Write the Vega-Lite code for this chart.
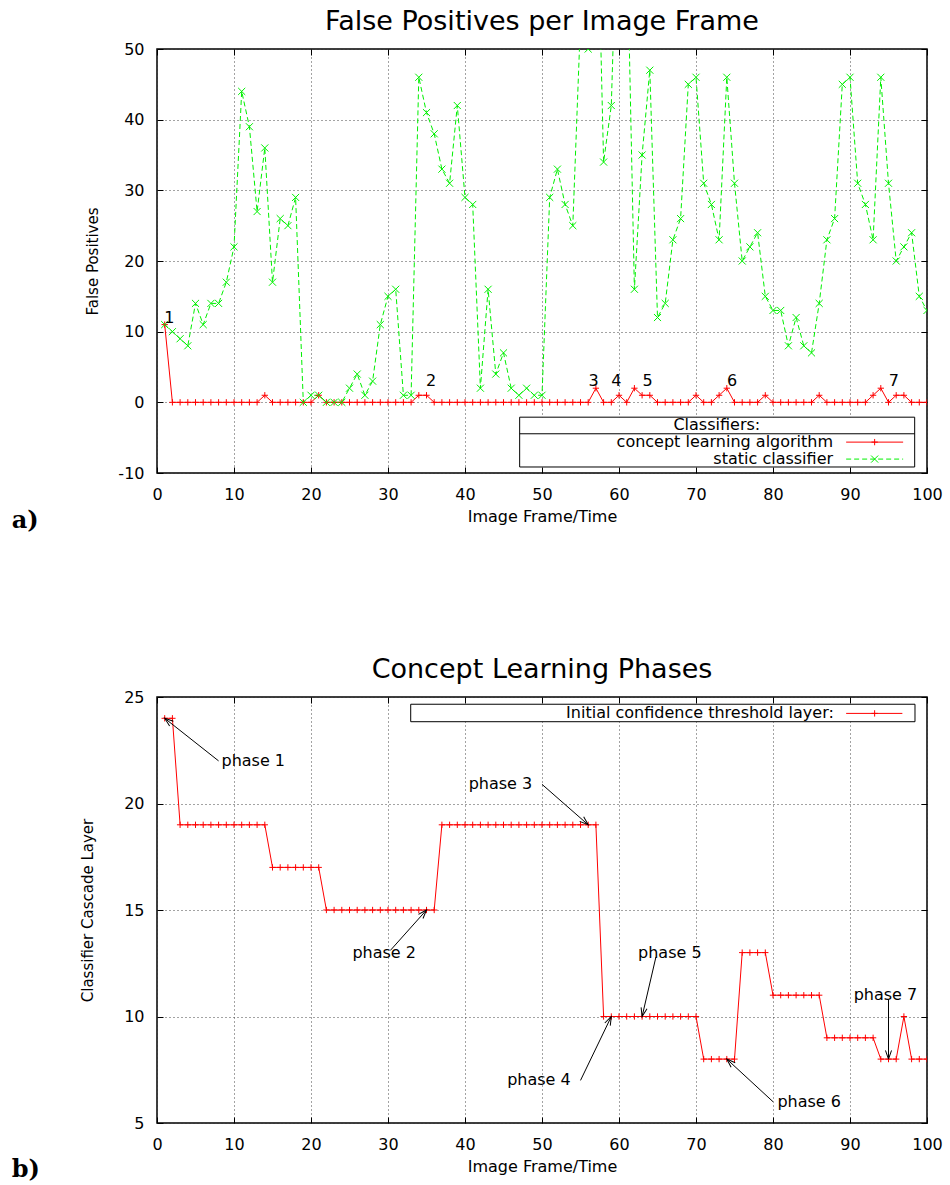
{
  "$schema": "https://vega.github.io/schema/vega-lite/v6.json",
  "background": "white",
  "padding": {"left": 10, "top": 7, "right": 10, "bottom": 0},
  "spacing": 121,
  "config": {
    "font": "DejaVu Sans",
    "view": {"stroke": "#000", "strokeWidth": 1.5},
    "axis": {
      "labelFont": "DejaVu Sans", "labelFontSize": 16, "labelColor": "#000",
      "titleFont": "DejaVu Sans", "titleFontSize": 16, "titleFontWeight": "normal", "titleColor": "#000",
      "domain": false, "tickColor": "#000", "tickWidth": 1,
      "gridColor": "#333", "gridDash": [1, 3], "gridWidth": 1, "gridOpacity": 0.9,
      "labelFlush": false,
      "labelExpr": "'' + datum.value"
    },
    "axisY": {"titleFontSize": 15},
    "title": {"font": "DejaVu Sans", "fontSize": 27, "fontWeight": "normal", "color": "#000", "anchor": "middle"},
    "text": {"font": "DejaVu Sans", "fontSize": 16, "color": "#000"}
  },
  "datasets": {
    "falsePositives": [
      {"frame": 1, "concept": 11, "static": 11}, {"frame": 2, "concept": 0, "static": 10},
      {"frame": 3, "concept": 0, "static": 9}, {"frame": 4, "concept": 0, "static": 8},
      {"frame": 5, "concept": 0, "static": 14}, {"frame": 6, "concept": 0, "static": 11},
      {"frame": 7, "concept": 0, "static": 14}, {"frame": 8, "concept": 0, "static": 14},
      {"frame": 9, "concept": 0, "static": 17}, {"frame": 10, "concept": 0, "static": 22},
      {"frame": 11, "concept": 0, "static": 44}, {"frame": 12, "concept": 0, "static": 39},
      {"frame": 13, "concept": 0, "static": 27}, {"frame": 14, "concept": 1, "static": 36},
      {"frame": 15, "concept": 0, "static": 17}, {"frame": 16, "concept": 0, "static": 26},
      {"frame": 17, "concept": 0, "static": 25}, {"frame": 18, "concept": 0, "static": 29},
      {"frame": 19, "concept": 0, "static": 0}, {"frame": 20, "concept": 0, "static": 1},
      {"frame": 21, "concept": 1, "static": 1}, {"frame": 22, "concept": 0, "static": 0},
      {"frame": 23, "concept": 0, "static": 0}, {"frame": 24, "concept": 0, "static": 0},
      {"frame": 25, "concept": 0, "static": 2}, {"frame": 26, "concept": 0, "static": 4},
      {"frame": 27, "concept": 0, "static": 1}, {"frame": 28, "concept": 0, "static": 3},
      {"frame": 29, "concept": 0, "static": 11}, {"frame": 30, "concept": 0, "static": 15},
      {"frame": 31, "concept": 0, "static": 16}, {"frame": 32, "concept": 0, "static": 1},
      {"frame": 33, "concept": 0, "static": 1}, {"frame": 34, "concept": 1, "static": 46},
      {"frame": 35, "concept": 1, "static": 41}, {"frame": 36, "concept": 0, "static": 38},
      {"frame": 37, "concept": 0, "static": 33}, {"frame": 38, "concept": 0, "static": 31},
      {"frame": 39, "concept": 0, "static": 42}, {"frame": 40, "concept": 0, "static": 29},
      {"frame": 41, "concept": 0, "static": 28}, {"frame": 42, "concept": 0, "static": 2},
      {"frame": 43, "concept": 0, "static": 16}, {"frame": 44, "concept": 0, "static": 4},
      {"frame": 45, "concept": 0, "static": 7}, {"frame": 46, "concept": 0, "static": 2},
      {"frame": 47, "concept": 0, "static": 1}, {"frame": 48, "concept": 0, "static": 2},
      {"frame": 49, "concept": 0, "static": 1}, {"frame": 50, "concept": 0, "static": 1},
      {"frame": 51, "concept": 0, "static": 29}, {"frame": 52, "concept": 0, "static": 33},
      {"frame": 53, "concept": 0, "static": 28}, {"frame": 54, "concept": 0, "static": 25},
      {"frame": 55, "concept": 0, "static": 54}, {"frame": 56, "concept": 0, "static": 50},
      {"frame": 57, "concept": 2, "static": 80}, {"frame": 58, "concept": 0, "static": 34},
      {"frame": 59, "concept": 0, "static": 42}, {"frame": 60, "concept": 1, "static": 78},
      {"frame": 61, "concept": 0, "static": 68}, {"frame": 62, "concept": 2, "static": 16},
      {"frame": 63, "concept": 1, "static": 35}, {"frame": 64, "concept": 1, "static": 47},
      {"frame": 65, "concept": 0, "static": 12}, {"frame": 66, "concept": 0, "static": 14},
      {"frame": 67, "concept": 0, "static": 23}, {"frame": 68, "concept": 0, "static": 26},
      {"frame": 69, "concept": 0, "static": 45}, {"frame": 70, "concept": 1, "static": 46},
      {"frame": 71, "concept": 0, "static": 31}, {"frame": 72, "concept": 0, "static": 28},
      {"frame": 73, "concept": 1, "static": 23}, {"frame": 74, "concept": 2, "static": 46},
      {"frame": 75, "concept": 0, "static": 31}, {"frame": 76, "concept": 0, "static": 20},
      {"frame": 77, "concept": 0, "static": 22}, {"frame": 78, "concept": 0, "static": 24},
      {"frame": 79, "concept": 1, "static": 15}, {"frame": 80, "concept": 0, "static": 13},
      {"frame": 81, "concept": 0, "static": 13}, {"frame": 82, "concept": 0, "static": 8},
      {"frame": 83, "concept": 0, "static": 12}, {"frame": 84, "concept": 0, "static": 8},
      {"frame": 85, "concept": 0, "static": 7}, {"frame": 86, "concept": 1, "static": 14},
      {"frame": 87, "concept": 0, "static": 23}, {"frame": 88, "concept": 0, "static": 26},
      {"frame": 89, "concept": 0, "static": 45}, {"frame": 90, "concept": 0, "static": 46},
      {"frame": 91, "concept": 0, "static": 31}, {"frame": 92, "concept": 0, "static": 28},
      {"frame": 93, "concept": 1, "static": 23}, {"frame": 94, "concept": 2, "static": 46},
      {"frame": 95, "concept": 0, "static": 31}, {"frame": 96, "concept": 1, "static": 20},
      {"frame": 97, "concept": 1, "static": 22}, {"frame": 98, "concept": 0, "static": 24},
      {"frame": 99, "concept": 0, "static": 15}, {"frame": 100, "concept": 0, "static": 13}
    ],
    "frameTags": [
      {"frame": 1.6, "fp": 12, "tag": "1"},
      {"frame": 35.6, "fp": 2.95, "tag": "2"},
      {"frame": 56.7, "fp": 2.95, "tag": "3"},
      {"frame": 59.65, "fp": 2.95, "tag": "4"},
      {"frame": 63.7, "fp": 2.95, "tag": "5"},
      {"frame": 74.7, "fp": 2.95, "tag": "6"},
      {"frame": 95.7, "fp": 2.95, "tag": "7"}
    ],
    "cascade": [
      {"frame": 1, "layer": 24}, {"frame": 2, "layer": 24}, {"frame": 3, "layer": 19}, {"frame": 4, "layer": 19},
      {"frame": 5, "layer": 19}, {"frame": 6, "layer": 19}, {"frame": 7, "layer": 19}, {"frame": 8, "layer": 19},
      {"frame": 9, "layer": 19}, {"frame": 10, "layer": 19}, {"frame": 11, "layer": 19}, {"frame": 12, "layer": 19},
      {"frame": 13, "layer": 19}, {"frame": 14, "layer": 19}, {"frame": 15, "layer": 17}, {"frame": 16, "layer": 17},
      {"frame": 17, "layer": 17}, {"frame": 18, "layer": 17}, {"frame": 19, "layer": 17}, {"frame": 20, "layer": 17},
      {"frame": 21, "layer": 17}, {"frame": 22, "layer": 15}, {"frame": 23, "layer": 15}, {"frame": 24, "layer": 15},
      {"frame": 25, "layer": 15}, {"frame": 26, "layer": 15}, {"frame": 27, "layer": 15}, {"frame": 28, "layer": 15},
      {"frame": 29, "layer": 15}, {"frame": 30, "layer": 15}, {"frame": 31, "layer": 15}, {"frame": 32, "layer": 15},
      {"frame": 33, "layer": 15}, {"frame": 34, "layer": 15}, {"frame": 35, "layer": 15}, {"frame": 36, "layer": 15},
      {"frame": 37, "layer": 19}, {"frame": 38, "layer": 19}, {"frame": 39, "layer": 19}, {"frame": 40, "layer": 19},
      {"frame": 41, "layer": 19}, {"frame": 42, "layer": 19}, {"frame": 43, "layer": 19}, {"frame": 44, "layer": 19},
      {"frame": 45, "layer": 19}, {"frame": 46, "layer": 19}, {"frame": 47, "layer": 19}, {"frame": 48, "layer": 19},
      {"frame": 49, "layer": 19}, {"frame": 50, "layer": 19}, {"frame": 51, "layer": 19}, {"frame": 52, "layer": 19},
      {"frame": 53, "layer": 19}, {"frame": 54, "layer": 19}, {"frame": 55, "layer": 19}, {"frame": 56, "layer": 19},
      {"frame": 57, "layer": 19}, {"frame": 58, "layer": 10}, {"frame": 59, "layer": 10}, {"frame": 60, "layer": 10},
      {"frame": 61, "layer": 10}, {"frame": 62, "layer": 10}, {"frame": 63, "layer": 10}, {"frame": 64, "layer": 10},
      {"frame": 65, "layer": 10}, {"frame": 66, "layer": 10}, {"frame": 67, "layer": 10}, {"frame": 68, "layer": 10},
      {"frame": 69, "layer": 10}, {"frame": 70, "layer": 10}, {"frame": 71, "layer": 8}, {"frame": 72, "layer": 8},
      {"frame": 73, "layer": 8}, {"frame": 74, "layer": 8}, {"frame": 75, "layer": 8}, {"frame": 76, "layer": 13},
      {"frame": 77, "layer": 13}, {"frame": 78, "layer": 13}, {"frame": 79, "layer": 13}, {"frame": 80, "layer": 11},
      {"frame": 81, "layer": 11}, {"frame": 82, "layer": 11}, {"frame": 83, "layer": 11}, {"frame": 84, "layer": 11},
      {"frame": 85, "layer": 11}, {"frame": 86, "layer": 11}, {"frame": 87, "layer": 9}, {"frame": 88, "layer": 9},
      {"frame": 89, "layer": 9}, {"frame": 90, "layer": 9}, {"frame": 91, "layer": 9}, {"frame": 92, "layer": 9},
      {"frame": 93, "layer": 9}, {"frame": 94, "layer": 8}, {"frame": 95, "layer": 8}, {"frame": 96, "layer": 8},
      {"frame": 97, "layer": 10}, {"frame": 98, "layer": 8}, {"frame": 99, "layer": 8}, {"frame": 100, "layer": 8}
    ],
    "phases": [
      {"phase": "phase 1", "labelFrame": 12.5, "labelLayer": 22, "fromFrame": 8, "fromLayer": 22, "toFrame": 1, "toLayer": 24},
      {"phase": "phase 2", "labelFrame": 29.5, "labelLayer": 13, "fromFrame": 30.3, "fromLayer": 13.1, "toFrame": 35, "toLayer": 15},
      {"phase": "phase 3", "labelFrame": 44.6, "labelLayer": 20.9, "fromFrame": 50, "fromLayer": 20.9, "toFrame": 56, "toLayer": 19},
      {"phase": "phase 4", "labelFrame": 49.6, "labelLayer": 7, "fromFrame": 55, "fromLayer": 7, "toFrame": 59, "toLayer": 10},
      {"phase": "phase 5", "labelFrame": 66.6, "labelLayer": 13, "fromFrame": 64.8, "fromLayer": 12.8, "toFrame": 63, "toLayer": 10},
      {"phase": "phase 6", "labelFrame": 84.7, "labelLayer": 6, "fromFrame": 80, "fromLayer": 6, "toFrame": 74, "toLayer": 8},
      {"phase": "phase 7", "labelFrame": 94.6, "labelLayer": 11, "fromFrame": 95, "fromLayer": 10.8, "toFrame": 95, "toLayer": 8}
    ]
  },
  "vconcat": [
    {
      "title": {"text": "False Positives per Image Frame", "offset": 5},
      "width": 770,
      "height": 424,
      "data": {"name": "falsePositives"},
      "resolve": {"axis": {"x": "independent", "y": "independent"}},
      "layer": [
        {
          "mark": {"type": "line", "color": "#ff0000", "strokeWidth": 1, "clip": true},
          "encoding": {
            "x": {"field": "frame", "type": "quantitative", "scale": {"domain": [0, 100], "nice": false, "zero": false},
              "axis": {"orient": "bottom", "values": [0, 10, 20, 30, 40, 50, 60, 70, 80, 90, 100], "title": "Image Frame/Time",
                "grid": true, "tickSize": -6, "labelPadding": 19, "titlePadding": 6}},
            "y": {"field": "concept", "type": "quantitative", "scale": {"domain": [-10, 50], "nice": false, "zero": false},
              "axis": {"orient": "left", "values": [-10, 0, 10, 20, 30, 40, 50], "title": "False Positives",
                "grid": true, "tickSize": -6, "labelPadding": 19, "titlePadding": 17}}
          }
        },
        {
          "mark": {"type": "line", "color": "#00f000", "strokeWidth": 1, "strokeDash": [5, 3], "clip": true},
          "encoding": {
            "x": {"field": "frame", "type": "quantitative", "scale": {"domain": [0, 100], "nice": false, "zero": false},
              "axis": {"orient": "top", "values": [0, 10, 20, 30, 40, 50, 60, 70, 80, 90, 100], "title": null,
                "grid": false, "labels": false, "tickSize": -6}},
            "y": {"field": "static", "type": "quantitative", "scale": {"domain": [-10, 50], "nice": false, "zero": false},
              "axis": {"orient": "right", "values": [-10, 0, 10, 20, 30, 40, 50], "title": null,
                "grid": false, "labels": false, "tickSize": -6}}
          }
        },
        {
          "mark": {"type": "point", "shape": "M-1,0L1,0M0,-1L0,1", "filled": false, "stroke": "#ff0000", "strokeWidth": 1, "size": 40, "opacity": 1, "clip": true},
          "encoding": {
            "x": {"field": "frame", "type": "quantitative", "scale": {"domain": [0, 100], "nice": false, "zero": false}, "axis": null},
            "y": {"field": "concept", "type": "quantitative", "scale": {"domain": [-10, 50], "nice": false, "zero": false}, "axis": null}
          }
        },
        {
          "mark": {"type": "point", "shape": "M-1,-1L1,1M-1,1L1,-1", "filled": false, "stroke": "#00f000", "strokeWidth": 1, "size": 50, "opacity": 1, "clip": true},
          "encoding": {
            "x": {"field": "frame", "type": "quantitative", "scale": {"domain": [0, 100], "nice": false, "zero": false}, "axis": null},
            "y": {"field": "static", "type": "quantitative", "scale": {"domain": [-10, 50], "nice": false, "zero": false}, "axis": null}
          }
        },
        {
          "data": {"name": "frameTags"},
          "mark": {"type": "text", "baseline": "middle", "align": "center"},
          "encoding": {
            "x": {"field": "frame", "type": "quantitative", "scale": {"domain": [0, 100], "nice": false, "zero": false}, "axis": null},
            "y": {"field": "fp", "type": "quantitative", "scale": {"domain": [-10, 50], "nice": false, "zero": false}, "axis": null},
            "text": {"field": "tag"}
          }
        },
        {
          "data": {"values": [{}]},
          "mark": {"type": "rect", "fill": "white", "stroke": "#000", "strokeWidth": 1},
          "encoding": {
            "x": {"datum": 47.1, "type": "quantitative", "scale": {"domain": [0, 100], "nice": false, "zero": false}, "axis": null},
            "x2": {"datum": 98.4},
            "y": {"datum": -9.15, "type": "quantitative", "scale": {"domain": [-10, 50], "nice": false, "zero": false}, "axis": null},
            "y2": {"datum": -2.1}
          }
        },
        {
          "data": {"values": [{}]},
          "mark": {"type": "rule", "color": "#000", "strokeWidth": 1},
          "encoding": {
            "x": {"datum": 47.1, "type": "quantitative", "scale": {"domain": [0, 100], "nice": false, "zero": false}, "axis": null},
            "x2": {"datum": 98.4},
            "y": {"datum": -4.45, "type": "quantitative", "scale": {"domain": [-10, 50], "nice": false, "zero": false}, "axis": null}
          }
        },
        {
          "data": {"values": [{}]},
          "mark": {"type": "text", "text": "Classifiers:", "align": "center", "baseline": "middle"},
          "encoding": {
            "x": {"datum": 72.7, "type": "quantitative", "scale": {"domain": [0, 100], "nice": false, "zero": false}, "axis": null},
            "y": {"datum": -3.25, "type": "quantitative", "scale": {"domain": [-10, 50], "nice": false, "zero": false}, "axis": null}
          }
        },
        {
          "data": {"values": [{}]},
          "mark": {"type": "text", "text": "concept learning algorithm", "align": "right", "baseline": "middle"},
          "encoding": {
            "x": {"datum": 87.8, "type": "quantitative", "scale": {"domain": [0, 100], "nice": false, "zero": false}, "axis": null},
            "y": {"datum": -5.63, "type": "quantitative", "scale": {"domain": [-10, 50], "nice": false, "zero": false}, "axis": null}
          }
        },
        {
          "data": {"values": [{}]},
          "mark": {"type": "text", "text": "static classifier", "align": "right", "baseline": "middle"},
          "encoding": {
            "x": {"datum": 87.8, "type": "quantitative", "scale": {"domain": [0, 100], "nice": false, "zero": false}, "axis": null},
            "y": {"datum": -8.03, "type": "quantitative", "scale": {"domain": [-10, 50], "nice": false, "zero": false}, "axis": null}
          }
        },
        {
          "data": {"values": [{}]},
          "mark": {"type": "rule", "color": "#ff0000", "strokeWidth": 1},
          "encoding": {
            "x": {"datum": 89.5, "type": "quantitative", "scale": {"domain": [0, 100], "nice": false, "zero": false}, "axis": null},
            "x2": {"datum": 96.9},
            "y": {"datum": -5.63, "type": "quantitative", "scale": {"domain": [-10, 50], "nice": false, "zero": false}, "axis": null}
          }
        },
        {
          "data": {"values": [{}]},
          "mark": {"type": "point", "shape": "M-1,0L1,0M0,-1L0,1", "filled": false, "stroke": "#ff0000", "strokeWidth": 1, "size": 40, "opacity": 1},
          "encoding": {
            "x": {"datum": 93.2, "type": "quantitative", "scale": {"domain": [0, 100], "nice": false, "zero": false}, "axis": null},
            "y": {"datum": -5.63, "type": "quantitative", "scale": {"domain": [-10, 50], "nice": false, "zero": false}, "axis": null}
          }
        },
        {
          "data": {"values": [{}]},
          "mark": {"type": "rule", "color": "#00f000", "strokeWidth": 1, "strokeDash": [5, 3]},
          "encoding": {
            "x": {"datum": 89.5, "type": "quantitative", "scale": {"domain": [0, 100], "nice": false, "zero": false}, "axis": null},
            "x2": {"datum": 96.9},
            "y": {"datum": -8.03, "type": "quantitative", "scale": {"domain": [-10, 50], "nice": false, "zero": false}, "axis": null}
          }
        },
        {
          "data": {"values": [{}]},
          "mark": {"type": "point", "shape": "M-1,-1L1,1M-1,1L1,-1", "filled": false, "stroke": "#00f000", "strokeWidth": 1, "size": 50, "opacity": 1},
          "encoding": {
            "x": {"datum": 93.2, "type": "quantitative", "scale": {"domain": [0, 100], "nice": false, "zero": false}, "axis": null},
            "y": {"datum": -8.03, "type": "quantitative", "scale": {"domain": [-10, 50], "nice": false, "zero": false}, "axis": null}
          }
        },
        {
          "data": {"values": [{}]},
          "mark": {"type": "text", "text": "a)", "align": "left", "baseline": "alphabetic", "font": "DejaVu Serif", "fontWeight": "bold", "fontSize": 24, "clip": false},
          "encoding": {
            "x": {"datum": -18.87, "type": "quantitative", "scale": {"domain": [0, 100], "nice": false, "zero": false}, "axis": null},
            "y": {"datum": -17.75, "type": "quantitative", "scale": {"domain": [-10, 50], "nice": false, "zero": false}, "axis": null}
          }
        }
      ]
    },
    {
      "title": {"text": "Concept Learning Phases", "offset": 5},
      "width": 770,
      "height": 426,
      "resolve": {"axis": {"x": "independent", "y": "independent"}},
      "layer": [
        {
          "data": {"name": "cascade"},
          "mark": {"type": "line", "color": "#ff0000", "strokeWidth": 1, "clip": true},
          "encoding": {
            "x": {"field": "frame", "type": "quantitative", "scale": {"domain": [0, 100], "nice": false, "zero": false},
              "axis": {"orient": "bottom", "values": [0, 10, 20, 30, 40, 50, 60, 70, 80, 90, 100], "title": "Image Frame/Time",
                "grid": true, "tickSize": -6, "labelPadding": 19, "titlePadding": 6}},
            "y": {"field": "layer", "type": "quantitative", "scale": {"domain": [5, 25], "nice": false, "zero": false},
              "axis": {"orient": "left", "values": [5, 10, 15, 20, 25], "title": "Classifier Cascade Layer",
                "grid": true, "tickSize": -6, "labelPadding": 19, "titlePadding": 28}}
          }
        },
        {
          "data": {"name": "cascade"},
          "mark": {"type": "point", "shape": "M-1,0L1,0M0,-1L0,1", "filled": false, "stroke": "#ff0000", "strokeWidth": 1, "size": 40, "opacity": 1, "clip": true},
          "encoding": {
            "x": {"field": "frame", "type": "quantitative", "scale": {"domain": [0, 100], "nice": false, "zero": false},
              "axis": {"orient": "top", "values": [0, 10, 20, 30, 40, 50, 60, 70, 80, 90, 100], "title": null,
                "grid": false, "labels": false, "tickSize": -6}},
            "y": {"field": "layer", "type": "quantitative", "scale": {"domain": [5, 25], "nice": false, "zero": false},
              "axis": {"orient": "right", "values": [5, 10, 15, 20, 25], "title": null,
                "grid": false, "labels": false, "tickSize": -6}}
          }
        },
        {
          "data": {"name": "phases"},
          "mark": {"type": "rule", "color": "#000", "strokeWidth": 1},
          "encoding": {
            "x": {"field": "fromFrame", "type": "quantitative", "scale": {"domain": [0, 100], "nice": false, "zero": false}, "axis": null},
            "y": {"field": "fromLayer", "type": "quantitative", "scale": {"domain": [5, 25], "nice": false, "zero": false}, "axis": null},
            "x2": {"field": "toFrame"},
            "y2": {"field": "toLayer"}
          }
        },
        {
          "data": {"name": "phases"},
          "transform": [
            {"calculate": "atan2((datum.toFrame - datum.fromFrame) * 7.7, (datum.toLayer - datum.fromLayer) * 21.3) * 180 / PI", "as": "heading"}
          ],
          "mark": {"type": "point", "shape": "M-0.35,1L0,0L0.35,1", "filled": false, "stroke": "#000", "strokeWidth": 1, "size": 300, "opacity": 1},
          "encoding": {
            "x": {"field": "toFrame", "type": "quantitative", "scale": {"domain": [0, 100], "nice": false, "zero": false}, "axis": null},
            "y": {"field": "toLayer", "type": "quantitative", "scale": {"domain": [5, 25], "nice": false, "zero": false}, "axis": null},
            "angle": {"field": "heading", "type": "quantitative", "scale": null}
          }
        },
        {
          "data": {"name": "phases"},
          "mark": {"type": "text", "align": "center", "baseline": "middle"},
          "encoding": {
            "x": {"field": "labelFrame", "type": "quantitative", "scale": {"domain": [0, 100], "nice": false, "zero": false}, "axis": null},
            "y": {"field": "labelLayer", "type": "quantitative", "scale": {"domain": [5, 25], "nice": false, "zero": false}, "axis": null},
            "text": {"field": "phase"}
          }
        },
        {
          "data": {"values": [{}]},
          "mark": {"type": "rect", "fill": "white", "stroke": "#000", "strokeWidth": 1},
          "encoding": {
            "x": {"datum": 32.95, "type": "quantitative", "scale": {"domain": [0, 100], "nice": false, "zero": false}, "axis": null},
            "x2": {"datum": 98.44},
            "y": {"datum": 23.84, "type": "quantitative", "scale": {"domain": [5, 25], "nice": false, "zero": false}, "axis": null},
            "y2": {"datum": 24.66}
          }
        },
        {
          "data": {"values": [{}]},
          "mark": {"type": "text", "text": "Initial confidence threshold layer:", "align": "right", "baseline": "middle"},
          "encoding": {
            "x": {"datum": 87.9, "type": "quantitative", "scale": {"domain": [0, 100], "nice": false, "zero": false}, "axis": null},
            "y": {"datum": 24.23, "type": "quantitative", "scale": {"domain": [5, 25], "nice": false, "zero": false}, "axis": null}
          }
        },
        {
          "data": {"values": [{}]},
          "mark": {"type": "rule", "color": "#ff0000", "strokeWidth": 1},
          "encoding": {
            "x": {"datum": 89.5, "type": "quantitative", "scale": {"domain": [0, 100], "nice": false, "zero": false}, "axis": null},
            "x2": {"datum": 96.8},
            "y": {"datum": 24.23, "type": "quantitative", "scale": {"domain": [5, 25], "nice": false, "zero": false}, "axis": null}
          }
        },
        {
          "data": {"values": [{}]},
          "mark": {"type": "point", "shape": "M-1,0L1,0M0,-1L0,1", "filled": false, "stroke": "#ff0000", "strokeWidth": 1, "size": 40, "opacity": 1},
          "encoding": {
            "x": {"datum": 93.2, "type": "quantitative", "scale": {"domain": [0, 100], "nice": false, "zero": false}, "axis": null},
            "y": {"datum": 24.23, "type": "quantitative", "scale": {"domain": [5, 25], "nice": false, "zero": false}, "axis": null}
          }
        },
        {
          "data": {"values": [{}]},
          "mark": {"type": "text", "text": "b)", "align": "left", "baseline": "alphabetic", "font": "DejaVu Serif", "fontWeight": "bold", "fontSize": 24, "clip": false},
          "encoding": {
            "x": {"datum": -18.87, "type": "quantitative", "scale": {"domain": [0, 100], "nice": false, "zero": false}, "axis": null},
            "y": {"datum": 2.46, "type": "quantitative", "scale": {"domain": [5, 25], "nice": false, "zero": false}, "axis": null}
          }
        }
      ]
    }
  ]
}
